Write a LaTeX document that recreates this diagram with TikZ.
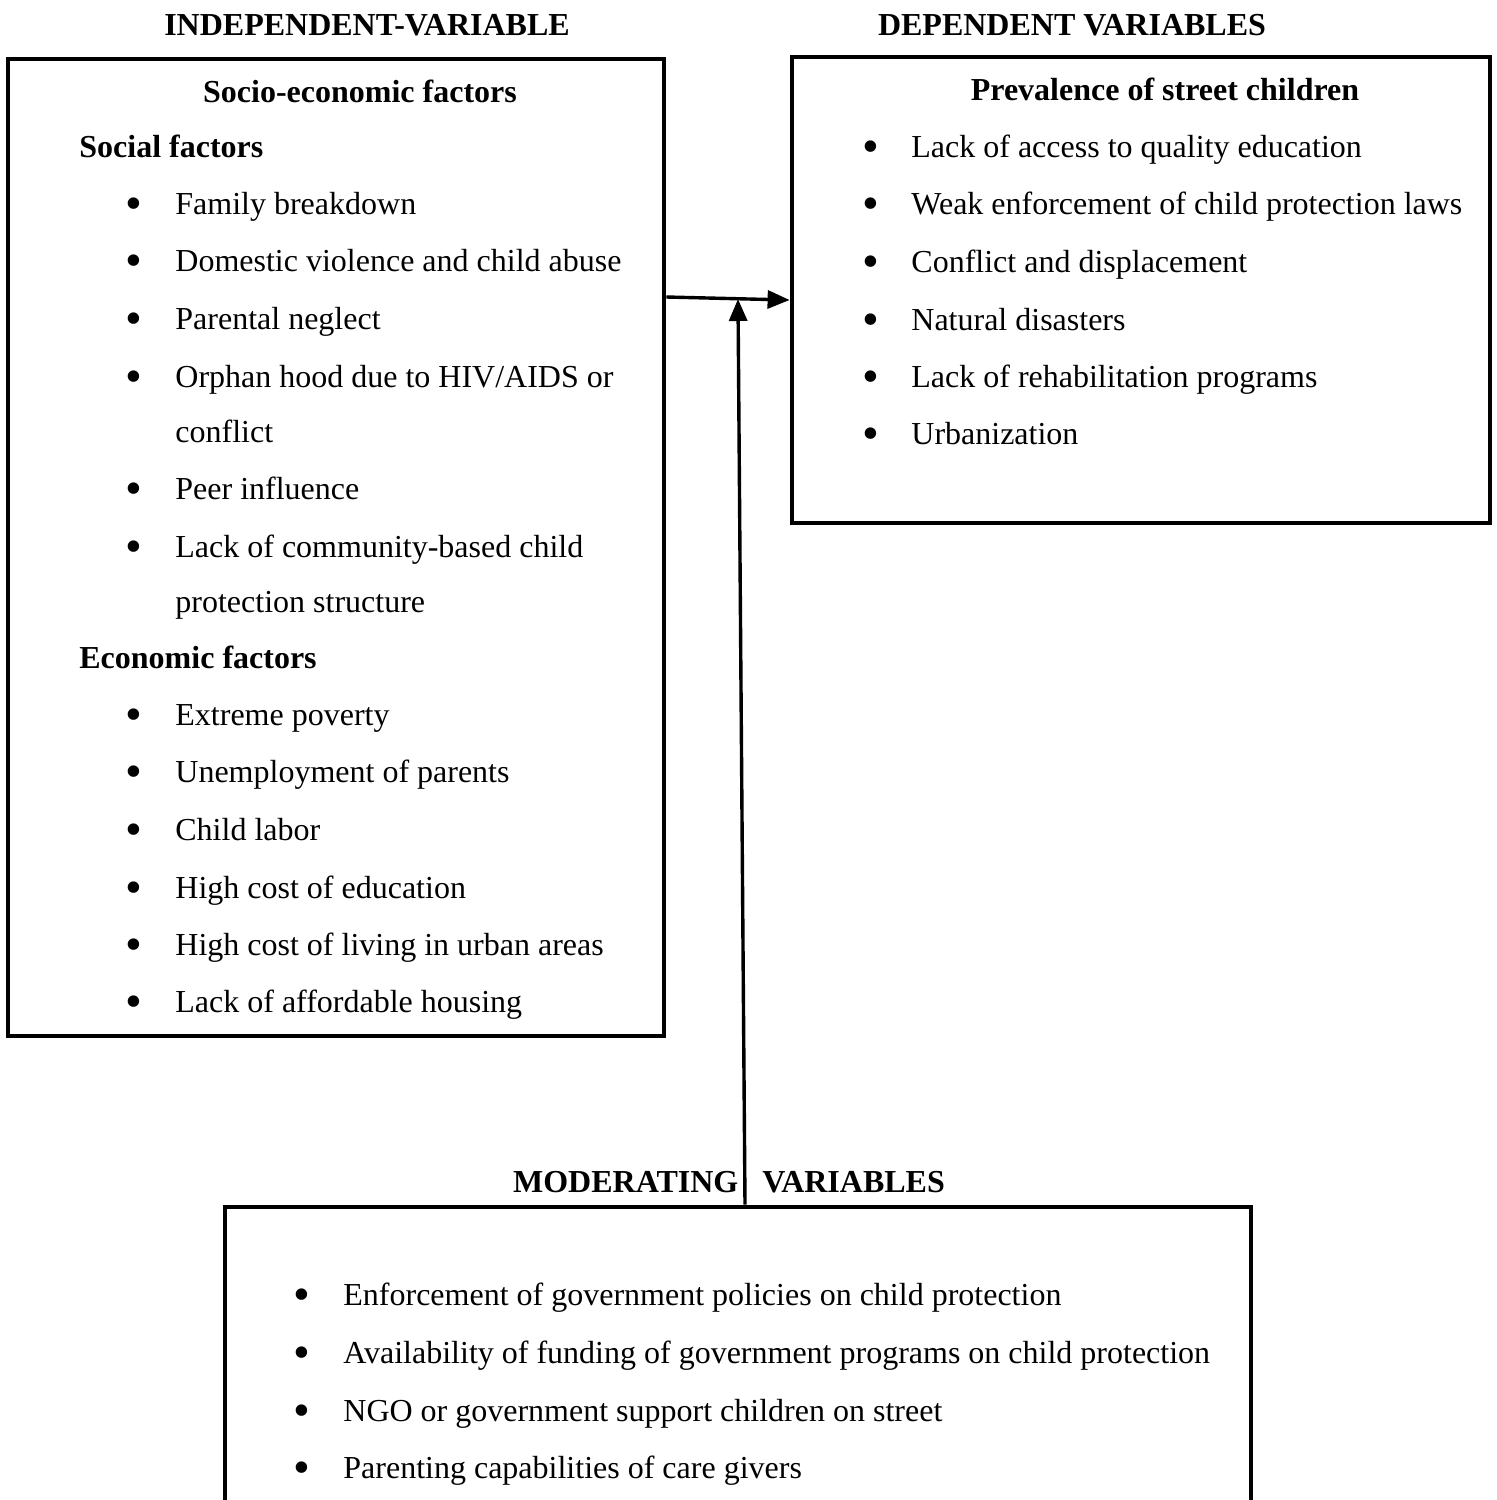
\documentclass[tikz,border=0pt]{standalone}
\usepackage{fontspec}
\setmainfont{Liberation Serif}
\usetikzlibrary{arrows.meta}

\begin{document}
\fontsize{16}{19}\selectfont
\begin{tikzpicture}[x=0.5pt, y=-0.5pt,
    box/.style={draw, line width=2.4pt, inner sep=0pt},
    txt/.style={anchor=base west, inner sep=0pt},
    head/.style={anchor=base, inner sep=0pt, font=\bfseries},
    sub/.style={anchor=base west, inner sep=0pt, font=\bfseries},
    dot/.style={anchor=base, inner sep=0pt, font=\fontsize{24}{24}\selectfont},
    link/.style={line width=1.7pt, -{Triangle[length=11pt, width=9pt]}}]
    \useasboundingbox (0,0) rectangle (1496,1500);
    \clip (0,0) rectangle (1496,1500);

    % titles
    \node[head] (tind) at (367,35) {INDEPENDENT-VARIABLE};
    \node[head] (tdep) at (1072,35) {DEPENDENT VARIABLES};
    \node[head] (tmod) at (729,1192) {MODERATING \ \ VARIABLES};

    % boxes
    \node[box, minimum width=328pt, minimum height=488.5pt] (indep) at (336,547.5) {};
    \node[box, minimum width=349pt, minimum height=233pt] (dep) at (1141,290) {};
    \node[box, minimum width=513pt, minimum height=170pt] (moder) at (738,1377) {};

    % independent variable
    \node[head] (socio) at (360,102) {Socio-economic factors};
    \node[sub] (soc) at (79,157) {Social factors};
    \node[dot] (b1) at (134,219) {•};
    \node[txt] (s1) at (175,214) {Family breakdown};
    \node[dot] (b2) at (134,276) {•};
    \node[txt] (s2) at (175,271) {Domestic violence and child abuse};
    \node[dot] (b3) at (134,334) {•};
    \node[txt] (s3) at (175,329) {Parental neglect};
    \node[dot] (b4) at (134,392) {•};
    \node[txt] (s4) at (175,387) {Orphan hood due to HIV/AIDS or};
    \node[txt] (s4b) at (175,442) {conflict};
    \node[dot] (b5) at (134,504) {•};
    \node[txt] (s5) at (175,499) {Peer influence};
    \node[dot] (b6) at (134,562) {•};
    \node[txt] (s6) at (175,557) {Lack of community-based child};
    \node[txt] (s6b) at (175,612) {protection structure};
    \node[sub] (eco) at (79,668) {Economic factors};
    \node[dot] (b7) at (134,730) {•};
    \node[txt] (e1) at (175,725) {Extreme poverty};
    \node[dot] (b8) at (134,787) {•};
    \node[txt] (e2) at (175,782) {Unemployment of parents};
    \node[dot] (b9) at (134,845) {•};
    \node[txt] (e3) at (175,840) {Child labor};
    \node[dot] (b10) at (134,903) {•};
    \node[txt] (e4) at (175,898) {High cost of education};
    \node[dot] (b11) at (134,960) {•};
    \node[txt] (e5) at (175,955) {High cost of living in urban areas};
    \node[dot] (b12) at (134,1017) {•};
    \node[txt] (e6) at (175,1012) {Lack of affordable housing};

    % dependent variable
    \node[head] (prev) at (1165,100) {Prevalence of street children};
    \node[dot] (c1) at (871,162) {•};
    \node[txt] (d1) at (911,157) {Lack of access to quality education};
    \node[dot] (c2) at (871,219) {•};
    \node[txt] (d2) at (911,214) {Weak enforcement of child protection laws};
    \node[dot] (c3) at (871,277) {•};
    \node[txt] (d3) at (911,272) {Conflict and displacement};
    \node[dot] (c4) at (871,335) {•};
    \node[txt] (d4) at (911,330) {Natural disasters};
    \node[dot] (c5) at (871,392) {•};
    \node[txt] (d5) at (911,387) {Lack of rehabilitation programs};
    \node[dot] (c6) at (871,449) {•};
    \node[txt] (d6) at (911,444) {Urbanization};

    % moderating variables
    \node[dot] (m1b) at (302,1310) {•};
    \node[txt] (m1) at (343,1305) {Enforcement of government policies on child protection};
    \node[dot] (m2b) at (302,1368) {•};
    \node[txt] (m2) at (343,1363) {Availability of funding of government programs on child protection};
    \node[dot] (m3b) at (302,1426) {•};
    \node[txt] (m3) at (343,1421) {NGO or government support children on street};
    \node[dot] (m4b) at (302,1483) {•};
    \node[txt] (m4) at (343,1478) {Parenting capabilities of care givers};

    % arrows
    \coordinate (meet) at (738,299);
    \draw[link] (indep.east |- 0,297) -- (dep.west |- 0,300);
    \draw[link] ([xshift=3.5pt]moder.north) -- (meet);
\end{tikzpicture}
\end{document}
